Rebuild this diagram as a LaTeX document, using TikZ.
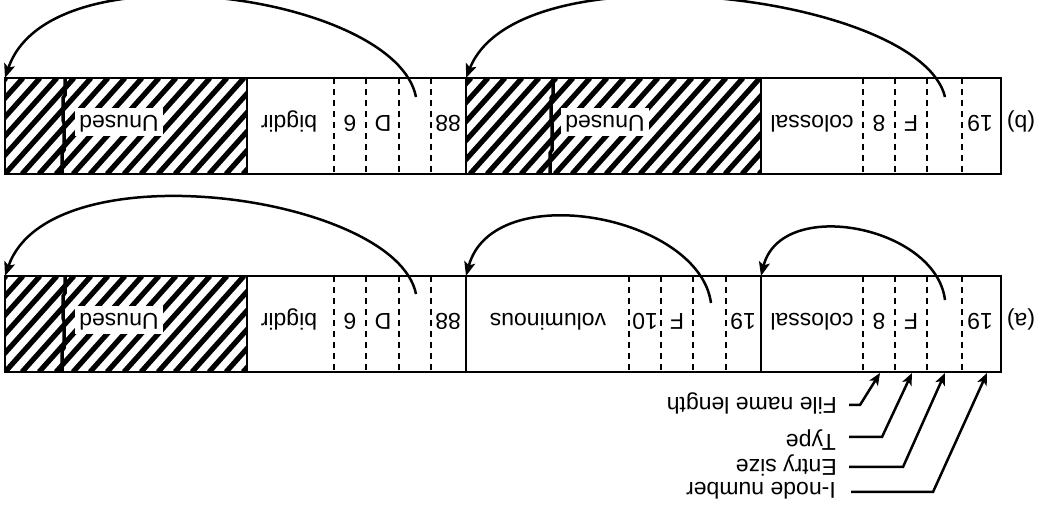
\documentclass[tikz,border=0pt]{standalone}
\usepackage{fontspec}
\setmainfont{Liberation Sans}
\usetikzlibrary{arrows.meta}
\begin{document}
\begin{tikzpicture}[x=1pt,y=-1pt,
  txt/.style={rotate=180, anchor=base, font=\fontsize{23}{27}\selectfont, inner sep=0pt},
  side/.style={rotate=180, anchor=base west, font=\fontsize{23}{27}\selectfont, inner sep=0pt},
  unused/.style={txt, fill=white, inner xsep=4pt, inner ysep=3pt, text height=17pt, text depth=5pt},
  frame/.style={line width=2pt},
  sep/.style={line width=1.5pt, dash pattern=on 6pt off 5pt},
  hatchline/.style={line width=5.2pt},
  seam/.style={line width=3.5pt},
  arr/.style={line width=2.5pt, -{Stealth[length=14pt,width=11pt,inset=3pt]}},
  lab/.style={line width=2.5pt, -{Stealth[length=12pt,width=10pt,inset=3pt]}}]
\useasboundingbox (0,0) rectangle (1045,518);

% ---------- hatched areas ----------
\begin{scope}
  \clip (5,78) rectangle (247,174);
  \foreach \i in {-7,...,15} {\draw[hatchline] ({5+\i*17},174) -- ++(86,-96);}
\end{scope}
\begin{scope}
  \clip (466,78) rectangle (761,174);
  \foreach \i in {-7,...,18} {\draw[hatchline] ({470+\i*17},174) -- ++(86,-96);}
\end{scope}
\begin{scope}
  \clip (5,276) rectangle (247,372);
  \foreach \i in {-7,...,15} {\draw[hatchline] ({5+\i*17},372) -- ++(86,-96);}
\end{scope}
\draw[seam] (65,78) -- (65,95) -- (63,98) -- (63,120) -- (64,123) -- (64,150) -- (62,153) -- (62,174);
\draw[seam] (553,78) -- (553,95) -- (551,98) -- (551,120) -- (552,123) -- (552,150) -- (550,153) -- (550,174);
\draw[seam] (65,276) -- (65,293) -- (63,296) -- (63,318) -- (64,321) -- (64,348) -- (62,351) -- (62,372);

% ---------- row (b) ----------
\draw[frame] (5,78) rectangle (1001,174);
\foreach \x in {247,466,761} {\draw[frame] (\x,78) -- (\x,174);}
\foreach \x in {334,366,399,431,863,895,927,962} {\draw[sep] (\x,78) -- (\x,174);}
\node[unused] (bu1) at (119,116) {Unused};
\node[unused] (bu2) at (605,116) {Unused};
\node[txt] (bn1) at (289,116) {bigdir};
\node[txt] (bl1) at (350,116) {6};
\node[txt] (bt1) at (383,116) {D};
\node[txt] (bi1) at (448,116) {88};
\node[txt] (bn2) at (812,116) {colossal};
\node[txt] (bl2) at (879,116) {8};
\node[txt] (bt2) at (911,116) {F};
\node[txt] (bi2) at (980,116) {19};
\node[txt] (bcap) at (1021,116) {(b)};

% ---------- row (a) ----------
\draw[frame] (5,276) rectangle (1001,372);
\foreach \x in {247,466,761} {\draw[frame] (\x,276) -- (\x,372);}
\foreach \x in {334,366,399,431,629,661,693,726,863,895,927,962} {\draw[sep] (\x,276) -- (\x,372);}
\node[unused] (au1) at (119,314) {Unused};
\node[txt] (an1) at (289,314) {bigdir};
\node[txt] (al1) at (350,314) {6};
\node[txt] (at1) at (383,314) {D};
\node[txt] (ai1) at (448,314) {88};
\node[txt] (an2) at (548,314) {voluminous};
\node[txt] (al2) at (645,314) {10};
\node[txt] (at2) at (677,314) {F};
\node[txt] (ai2) at (743,314) {19};
\node[txt] (an3) at (812,314) {colossal};
\node[txt] (al3) at (879,314) {8};
\node[txt] (at3) at (911,314) {F};
\node[txt] (ai3) at (980,314) {19};
\node[txt] (acap) at (1021,314) {(a)};

% ---------- arcs ----------
\coordinate (bs1) at (416,97);  \coordinate (be1) at (5,78);
\coordinate (bs2) at (945,97);  \coordinate (be2) at (466,78);
\coordinate (as1) at (416,294); \coordinate (ae1) at (5,276);
\coordinate (as2) at (711,303); \coordinate (ae2) at (466,276);
\coordinate (as3) at (945,300); \coordinate (ae3) at (761,276);
\draw[arr] (bs1) .. controls (396,-5) and (50,-55) .. (be1);
\draw[arr] (bs2) .. controls (921,-5) and (519,-55) .. (be2);
\draw[arr] (as1) .. controls (396,195) and (50,147) .. (ae1);
\draw[arr] (as2) .. controls (699,215) and (493,177) .. (ae2);
\draw[arr] (as3) .. controls (936,226) and (781,196) .. (ae3);

% ---------- field labels ----------
\node[side] (fnl) at (837,398) {File name length};
\node[side] (typ) at (836,435) {Type};
\node[side] (esz) at (837,460) {Entry size};
\node[side] (ino) at (836,483) {I-node number};
\coordinate (f0) at (849,405); \coordinate (f1) at (860,405); \coordinate (ft) at (880,373);
\coordinate (t0) at (849,437); \coordinate (t1) at (882,437); \coordinate (tt) at (912,373);
\coordinate (e0) at (849,467); \coordinate (e1) at (903,467); \coordinate (et) at (945,373);
\coordinate (i0) at (851,492); \coordinate (i1) at (933,492); \coordinate (it) at (987,373);
\draw[lab] (f0) -- (f1) -- (ft);
\draw[lab] (t0) -- (t1) -- (tt);
\draw[lab] (e0) -- (e1) -- (et);
\draw[lab] (i0) -- (i1) -- (it);
\end{tikzpicture}
\end{document}
